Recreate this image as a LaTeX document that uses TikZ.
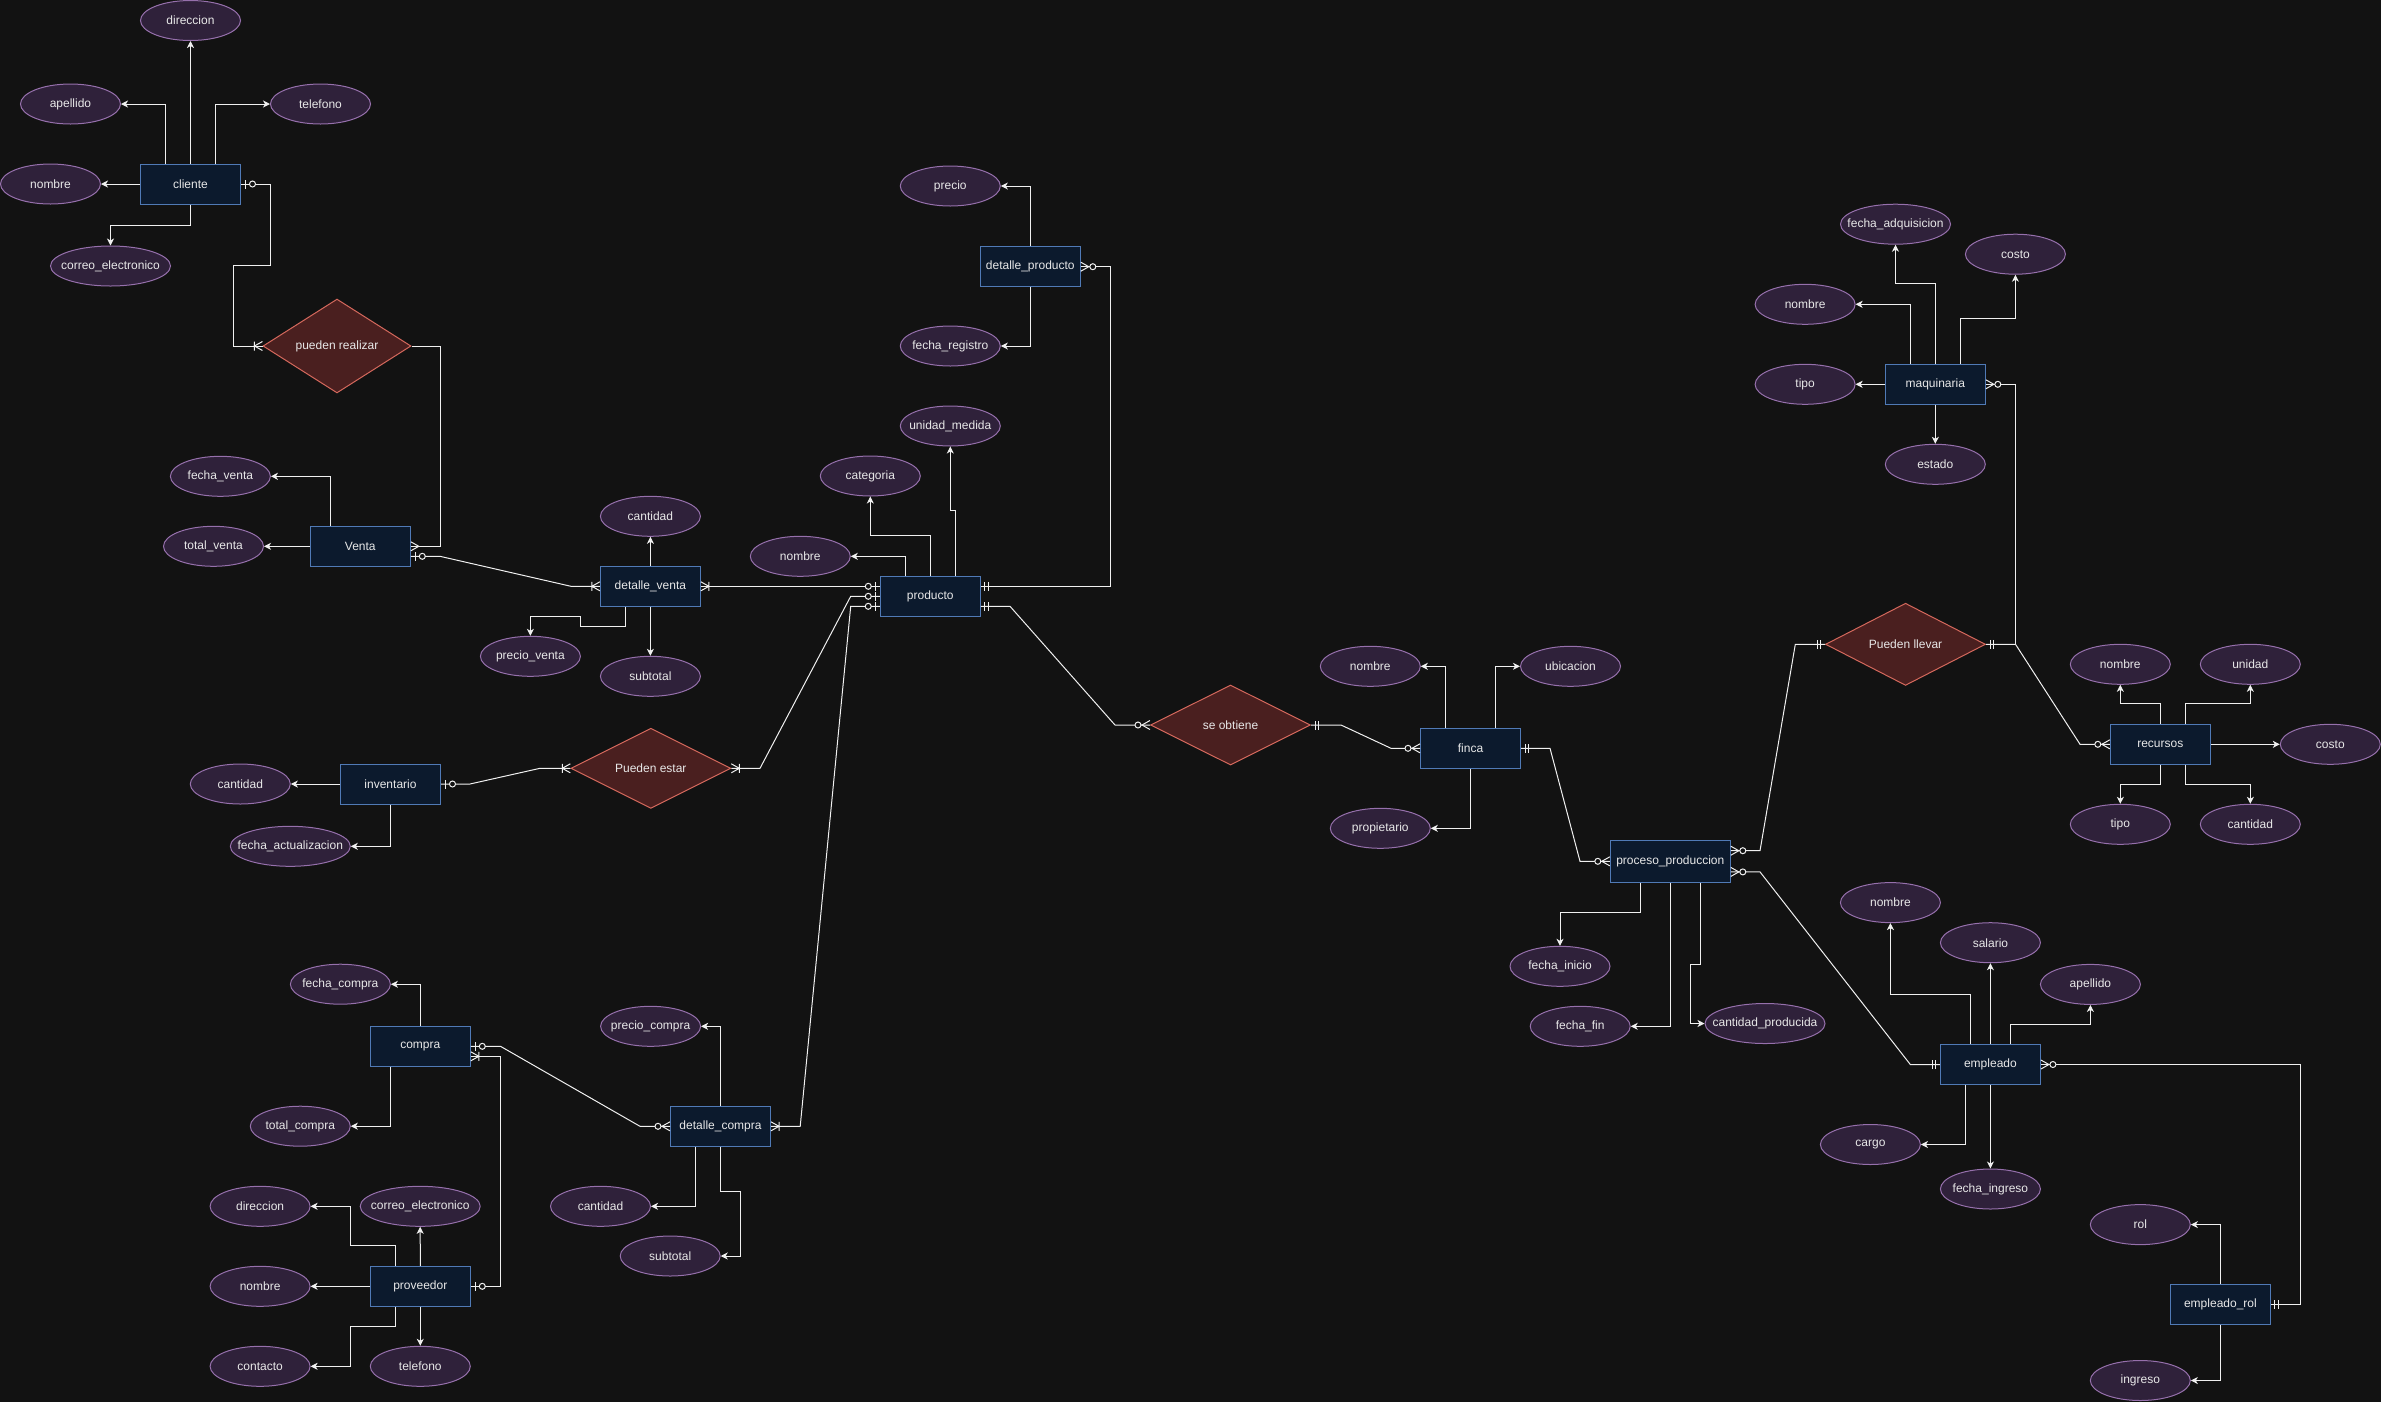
\documentclass[tikz,border=0pt]{standalone}
\usepackage{fontspec}
\setmainfont{Liberation Sans}
\usetikzlibrary{shapes.geometric, arrows.meta, decorations.markings}
\definecolor{fondo}{RGB}{18,18,18}
\definecolor{entcol}{RGB}{12,26,45}
\definecolor{entborde}{RGB}{80,122,182}
\definecolor{attrcol}{RGB}{47,33,58}
\definecolor{attrborde}{RGB}{150,112,172}
\definecolor{relcol}{RGB}{74,31,31}
\definecolor{relborde}{RGB}{212,104,92}
\definecolor{textocol}{RGB}{232,232,232}
\definecolor{linea}{RGB}{240,240,240}

% crow's foot ends, drawn with the entity at x=0
\newcommand\ermandone{\draw[-,linea] (4pt,-4.5pt) -- (4pt,4.5pt) (7.5pt,-4.5pt) -- (7.5pt,4.5pt);}
\newcommand\erzeroone{\draw[-,linea] (4.5pt,-4.5pt) -- (4.5pt,4.5pt); \filldraw[-,draw=linea,fill=fondo] (11.5pt,0) circle (3pt);}
\newcommand\eronemany{\draw[-,linea] (0,-4.5pt) -- (8pt,0) -- (0,4.5pt) (8pt,-4.5pt) -- (8pt,4.5pt);}
\newcommand\erzeromany{\draw[-,linea] (0,-4.5pt) -- (8pt,0) -- (0,4.5pt); \filldraw[-,draw=linea,fill=fondo] (12pt,0) circle (3pt);}
\newcommand\ermany{\draw[-,linea] (0,-4.5pt) -- (8pt,0) -- (0,4.5pt);}

\begin{document}
\begin{tikzpicture}[
			x=1pt, y=-1pt,
			font=\fontsize{12}{14}\selectfont,
			line width=1pt,
			entidad/.style={
				draw=entborde,
				fill=entcol,
				text=textocol,
				rectangle,
				minimum width=100pt,
				minimum height=40pt,
				inner sep=0pt
			},
			atributo/.style={
				draw=attrborde,
				fill=attrcol,
				text=textocol,
				ellipse,
				minimum width=100pt,
				minimum height=40pt,
				inner sep=0pt,
				execute at begin node={\hbox to 0pt\bgroup\hss},
				execute at end node={\hss\egroup}
			},
			relacion/.style={
				draw=relborde,
				fill=relcol,
				text=textocol,
				diamond,
				minimum width=160pt,
				minimum height=80pt,
				inner sep=0pt
			},
			attrline/.style={
				draw=linea,
				-{Stealth[length=7pt,width=7pt,inset=2pt]}
			},
			erline/.style={draw=linea},
			desde/.style={postaction={decorate,decoration={markings,mark=at position 0 with {#1}}}},
			hasta/.style={postaction={decorate,decoration={markings,mark=at position 0.9999 with {\begin{scope}[xscale=-1]#1\end{scope}}}}}
			]
			\useasboundingbox (0,0) rectangle (2381,1401);
			\fill[fondo] (-10,-10) rectangle (2391,1411);

			% Entities
			\node[entidad] (cliente) at (190.5,184) {cliente};
			\node[entidad] (venta) at (360.3,546.3) {Venta};
			\node[entidad] (detalleventa) at (650.4,586.3) {detalle\_venta};
			\node[entidad] (producto) at (930.3,596.3) {producto};
			\node[entidad] (detalleproducto) at (1030.3,266.7) {detalle\_producto};
			\node[entidad] (inventario) at (390.5,784) {inventario};
			\node[entidad] (compra) at (420.3,1046.3) {compra};
			\node[entidad] (detallecompra) at (720.5,1126.3) {detalle\_compra};
			\node[entidad] (proveedor) at (420.3,1286.3) {proveedor};
			\node[entidad] (finca) at (1470.5,748.3) {finca};
			\node[entidad, minimum width=120pt, minimum height=42pt] (proceso) at (1670.3,861.3) {proceso\_produccion};
			\node[entidad] (maquinaria) at (1935.3,384.3) {maquinaria};
			\node[entidad] (recursos) at (2160.3,744.3) {recursos};
			\node[entidad] (empleado) at (1990.4,1064.5) {empleado};
			\node[entidad] (empleadorol) at (2220.4,1304.6) {empleado\_rol};

			% Relations
			\node[relacion, minimum width=148pt] (realizar) at (337,346) {pueden realizar};
			\node[relacion] (estar) at (650.8,768.3) {Pueden estar};
			\node[relacion] (obtiene) at (1230.5,725) {se obtiene};
			\node[relacion] (llevar) at (1905.5,644.3) {Pueden llevar};

			% Attributes
			\node[atributo] (cdireccion) at (190.5,20.5) {direccion};
			\node[atributo] (capellido) at (70.5,104) {apellido};
			\node[atributo] (ctelefono) at (320.5,104) {telefono};
			\node[atributo] (cnombre) at (50.5,184) {nombre};
			\node[atributo, minimum width=120pt] (ccorreo) at (110.5,266) {correo\_electronico};

			\node[atributo] (vfecha) at (220.4,476.3) {fecha\_venta};
			\node[atributo] (vtotal) at (213.5,546.3) {total\_venta};

			\node[atributo] (dvcantidad) at (650.4,516.3) {cantidad};
			\node[atributo] (dvsubtotal) at (650.4,676.3) {subtotal};
			\node[atributo] (dvprecio) at (530.4,656.3) {precio\_venta};

			\node[atributo] (pnombre) at (800.3,556.3) {nombre};
			\node[atributo] (pcategoria) at (870.3,476) {categoria};
			\node[atributo] (pmedida) at (950.3,426) {unidad\_medida};

			\node[atributo] (dpprecio) at (950.3,186) {precio};
			\node[atributo] (dpfecha) at (950.3,346) {fecha\_registro};

			\node[atributo] (icantidad) at (240.3,784) {cantidad};
			\node[atributo, minimum width=120pt] (ifecha) at (290.3,846.3) {fecha\_actualizacion};

			\node[atributo] (cofecha) at (340.4,984.2) {fecha\_compra};
			\node[atributo] (cototal) at (300.3,1126.2) {total\_compra};

			\node[atributo] (dcprecio) at (650.6,1026.3) {precio\_compra};
			\node[atributo] (dccantidad) at (600.5,1206.3) {cantidad};
			\node[atributo] (dcsubtotal) at (670.2,1256) {subtotal};

			\node[atributo] (prdireccion) at (260.1,1206.3) {direccion};
			\node[atributo, minimum width=120pt] (prcorreo) at (420.2,1206.3) {correo\_electronico};
			\node[atributo] (prnombre) at (260.1,1286.3) {nombre};
			\node[atributo] (prcontacto) at (260.1,1366.3) {contacto};
			\node[atributo] (prtelefono) at (420.3,1366.3) {telefono};

			\node[atributo] (fnombre) at (1370.3,666.3) {nombre};
			\node[atributo] (fubicacion) at (1570.5,666.3) {ubicacion};
			\node[atributo] (fpropietario) at (1380.3,828.3) {propietario};

			\node[atributo] (ppinicio) at (1560,966.3) {fecha\_inicio};
			\node[atributo] (ppfin) at (1580.2,1026.3) {fecha\_fin};
			\node[atributo, minimum width=120pt] (ppcantidad) at (1765,1023.5) {cantidad\_producida};

			\node[atributo, minimum width=110pt] (mfecha) at (1895.5,224.2) {fecha\_adquisicion};
			\node[atributo] (mcosto) at (2015.4,254.2) {costo};
			\node[atributo] (mnombre) at (1805.1,304.3) {nombre};
			\node[atributo] (mtipo) at (1805.1,384.3) {tipo};
			\node[atributo] (mestado) at (1935.3,464.3) {estado};

			\node[atributo] (rnombre) at (2120.3,664.3) {nombre};
			\node[atributo] (runidad) at (2250.3,664.3) {unidad};
			\node[atributo] (rcosto) at (2330.3,744.3) {costo};
			\node[atributo] (rtipo) at (2120.3,824.3) {tipo};
			\node[atributo] (rcantidad) at (2250.3,824.3) {cantidad};

			\node[atributo] (enombre) at (1890.4,902.6) {nombre};
			\node[atributo] (esalario) at (1990.4,942.7) {salario};
			\node[atributo] (eapellido) at (2090.4,984.4) {apellido};
			\node[atributo] (ecargo) at (1870.4,1144.5) {cargo};
			\node[atributo] (eingreso) at (1990.4,1189) {fecha\_ingreso};

			\node[atributo] (errol) at (2140.3,1224.6) {rol};
			\node[atributo] (eringreso) at (2140.3,1380.5) {ingreso};

			% Attribute links
			\draw[attrline] ([xshift=-25pt]cliente.north) |- (capellido.east);
			\draw[attrline] (cliente.north) -- (cdireccion.south);
			\draw[attrline] ([xshift=25pt]cliente.north) |- (ctelefono.west);
			\draw[attrline] (cliente.west) -- (cnombre.east);
			\draw[attrline] (cliente.south) -- ++(0,21) -| (ccorreo.north);

			\draw[attrline] ([xshift=-30pt]venta.north) |- (vfecha.east);
			\draw[attrline] (venta.west) -- (vtotal.east);

			\draw[attrline] (detalleventa.north) -- (dvcantidad.south);
			\draw[attrline] (detalleventa.south) -- (dvsubtotal.north);
			\draw[attrline] ([xshift=-25pt]detalleventa.south) |- (580.5,626.3) |- (530.4,616.7) -- (dvprecio.north);

			\draw[attrline] ([xshift=-25pt]producto.north) |- (pnombre.east);
			\draw[attrline] (producto.north) -- ++(0,-40) -| (pcategoria.south);
			\draw[attrline] ([xshift=25pt]producto.north) -- ++(0,-65) -- ++(-5,0) -- (pmedida.south);

			\draw[attrline] (detalleproducto.north) |- (dpprecio.east);
			\draw[attrline] (detalleproducto.south) |- (dpfecha.east);

			\draw[attrline] (inventario.west) -- (icantidad.east);
			\draw[attrline] (inventario.south) |- (ifecha.east);

			\draw[attrline] (compra.north) |- (cofecha.east);
			\draw[attrline] ([xshift=-30pt]compra.south) |- (cototal.east);

			\draw[attrline] (detallecompra.north) |- (dcprecio.east);
			\draw[attrline] ([xshift=-25pt]detallecompra.south) |- (dccantidad.east);
			\draw[attrline] (detallecompra.south) -- ++(0,45) -- ++(20,0) |- (dcsubtotal.east);

			\draw[attrline] ([xshift=-25pt]proveedor.north) -- ++(0,-20) -- ++(-45,0) |- (prdireccion.east);
			\draw[attrline] (proveedor.north) -- (prcorreo.south);
			\draw[attrline] (proveedor.west) -- (prnombre.east);
			\draw[attrline] ([xshift=-25pt]proveedor.south) -- ++(0,20) -- ++(-45,0) |- (prcontacto.east);
			\draw[attrline] (proveedor.south) -- (prtelefono.north);

			\draw[attrline] ([xshift=-25pt]finca.north) |- (fnombre.east);
			\draw[attrline] ([xshift=25pt]finca.north) |- (fubicacion.west);
			\draw[attrline] (finca.south) |- (fpropietario.east);

			\draw[attrline] ([xshift=-30pt]proceso.south) -- ++(0,30) -| (ppinicio.north);
			\draw[attrline] (proceso.south) |- (ppfin.east);
			\draw[attrline] ([xshift=30pt]proceso.south) -- ++(0,82) -- ++(-10,0) |- (ppcantidad.west);

			\draw[attrline] (maquinaria.north) -- ++(0,-80) -| (mfecha.south);
			\draw[attrline] ([xshift=-25pt]maquinaria.north) |- (mnombre.east);
			\draw[attrline] ([xshift=25pt]maquinaria.north) -- ++(0,-45) -| (mcosto.south);
			\draw[attrline] (maquinaria.west) -- (mtipo.east);
			\draw[attrline] (maquinaria.south) -- (mestado.north);

			\draw[attrline] (recursos.north) -- ++(0,-20) -| (rnombre.south);
			\draw[attrline] ([xshift=25pt]recursos.north) -- ++(0,-20) -| (runidad.south);
			\draw[attrline] (recursos.east) -- (rcosto.west);
			\draw[attrline] (recursos.south) -- ++(0,20) -| (rtipo.north);
			\draw[attrline] ([xshift=25pt]recursos.south) -- ++(0,20) -| (rcantidad.north);

			\draw[attrline] ([xshift=-20pt]empleado.north) -- ++(0,-50) -| (enombre.south);
			\draw[attrline] (empleado.north) -- (esalario.south);
			\draw[attrline] ([xshift=20pt]empleado.north) -- ++(0,-20) -| (eapellido.south);
			\draw[attrline] ([xshift=-25pt]empleado.south) |- (ecargo.east);
			\draw[attrline] (empleado.south) -- (eingreso.north);

			\draw[attrline] (empleadorol.north) |- (errol.east);
			\draw[attrline] (empleadorol.south) |- (eringreso.east);

			% Relationship links
			\draw[erline, desde=\erzeroone, hasta=\eronemany] (cliente.east) -| (270,265) -| (233,346) -- (realizar.west);
			\draw[erline, hasta=\ermany] (realizar.east) -| (440,546.3) -- (venta.east);
			\draw[erline, desde=\erzeroone, hasta=\eronemany] ([yshift=-10pt]venta.east) -- (440,556.3) -- (571,586.3) -- (detalleventa.west);
			\draw[erline, desde=\eronemany, hasta=\erzeroone] (detalleventa.east) -- ([yshift=10pt]producto.west);
			\draw[erline, desde=\eronemany, hasta=\erzeroone] (estar.east) -- (760,768.3) -- (850.7,596.3) -- (producto.west);
			\draw[erline, desde=\eronemany, hasta=\erzeroone] (detallecompra.east) -- (800.2,1126.3) -- (850.7,606.3) -- ([yshift=-10pt]producto.west);
			\draw[erline, desde=\erzeroone, hasta=\eronemany] (inventario.east) -- (470,784) -- (540,768.3) -- (estar.west);
			\draw[erline, desde=\erzeromany, hasta=\ermandone] (detalleproducto.east) -| (1110.5,586.3) -- ([yshift=10pt]producto.east);
			\draw[erline, desde=\ermandone, hasta=\erzeromany] ([yshift=-10pt]producto.east) -- (1010,606.3) -- (1115,725) -- (obtiene.west);
			\draw[erline, desde=\ermandone, hasta=\erzeromany] (obtiene.east) -- (1341,725) -- (1391,748.3) -- (finca.west);
			\draw[erline, desde=\ermandone, hasta=\erzeromany] (finca.east) -- (1550,748.3) -- (1580,861.3) -- (proceso.west);
			\draw[erline, desde=\erzeromany, hasta=\ermandone] ([yshift=10.6pt]proceso.east) -- (1760,850.7) -- (1795.3,644.3) -- (llevar.west);
			\draw[erline, desde=\erzeromany, hasta=\ermandone] (maquinaria.east) -| (2015.5,644.3) -- (llevar.east);
			\draw[erline, hasta=\erzeromany] (llevar.east) -- (2015.5,644.3) -- (2080,744.3) -- (recursos.west);
			\draw[erline, desde=\erzeromany, hasta=\ermandone] ([yshift=-10.6pt]proceso.east) -- (1760,871.9) -- (1910.3,1064.5) -- (empleado.west);
			\draw[erline, desde=\erzeromany, hasta=\ermandone] (empleado.east) -| (2300,1304.6) -- (empleadorol.east);
			\draw[erline, desde=\erzeroone, hasta=\erzeromany] (compra.east) -- (500.5,1046.3) -- (640,1126.3) -- (detallecompra.west);
			\draw[erline, desde=\erzeroone, hasta=\eronemany] (proveedor.east) -| (500.5,1056.3) -- ([yshift=-10pt]compra.east);
		\end{tikzpicture}
\end{document}
